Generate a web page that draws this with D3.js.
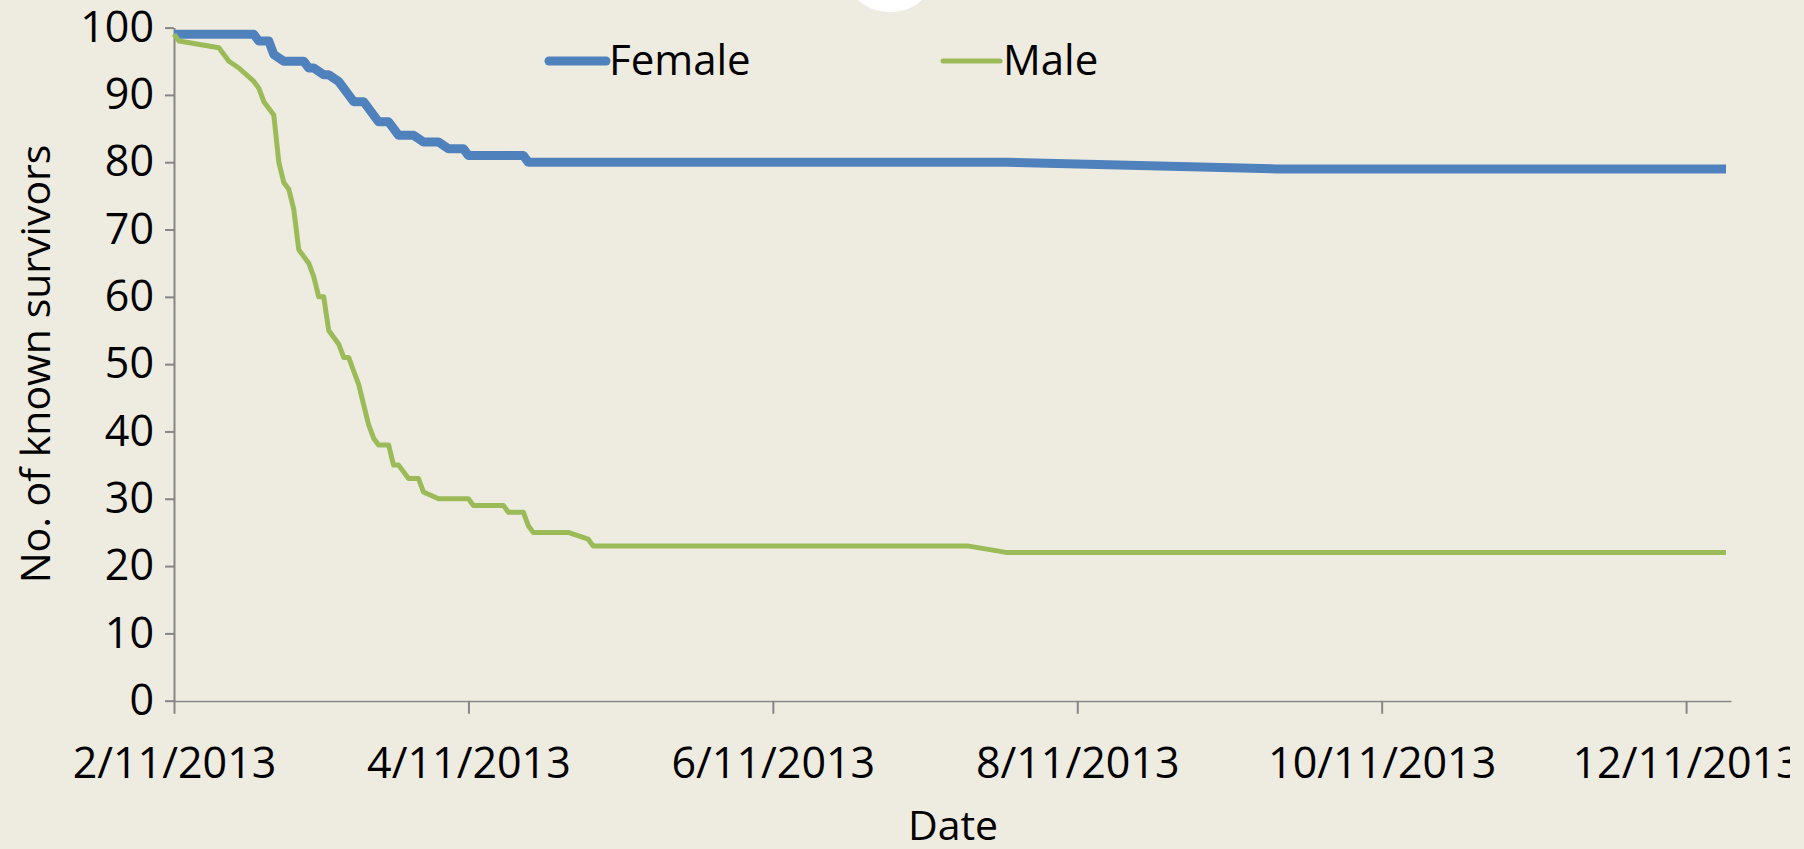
<!DOCTYPE html>
<html>
<head>
<meta charset="utf-8">
<script src="https://cdn.jsdelivr.net/npm/d3@7"></script>
<style>
  body { margin: 0; background: #EEECE1; overflow: hidden; }
  text { font-family: 'Open Sans', 'Noto Sans', sans-serif; fill: #000; }
</style>
</head>
<body>
<script>
/**
Known survivors by sex over time, drawn as two lines on a date axis.
*/

const width = 1804;
const height = 849;

const femaleDates = ['2013-02-11','2013-02-27','2013-02-28','2013-03-02','2013-03-03','2013-03-05',
  '2013-03-09','2013-03-10','2013-03-11','2013-03-13','2013-03-14','2013-03-16','2013-03-19',
  '2013-03-21','2013-03-24','2013-03-26','2013-03-28','2013-03-31','2013-04-02','2013-04-05',
  '2013-04-07','2013-04-10','2013-04-11','2013-04-22','2013-04-23','2013-07-28','2013-09-20','2013-12-19'];
const femaleValues = [99,99,98,98,96,95,
  95,94,94,93,93,92,89,
  89,86,86,84,84,83,83,
  82,82,81,81,80,80,79,79];

const maleDates = ['2013-02-11','2013-02-12','2013-02-20','2013-02-22','2013-02-24','2013-02-27',
  '2013-02-28','2013-03-01','2013-03-03','2013-03-04','2013-03-05','2013-03-06','2013-03-07',
  '2013-03-08','2013-03-10','2013-03-11','2013-03-12','2013-03-13','2013-03-14','2013-03-16',
  '2013-03-17','2013-03-18','2013-03-20','2013-03-21','2013-03-22','2013-03-23','2013-03-24',
  '2013-03-26','2013-03-27','2013-03-28','2013-03-30','2013-04-01','2013-04-02','2013-04-05',
  '2013-04-11','2013-04-12','2013-04-18','2013-04-19','2013-04-22','2013-04-23','2013-04-24',
  '2013-05-01','2013-05-05','2013-05-06','2013-07-20','2013-07-28','2013-12-19'];
const maleValues = [99,98,97,95,94,92,
  91,89,87,80,77,76,73,
  67,65,63,60,60,55,53,
  51,51,47,44,41,39,38,
  38,35,35,33,33,31,30,
  30,29,29,28,28,26,25,
  25,24,23,23,22,22];

// Axis ticks and titles
const xDomain = ['2013-02-11', '2013-12-20'];
const xTickDates = ['2013-02-11','2013-04-11','2013-06-11','2013-08-11','2013-10-11','2013-12-11'];
const yTickValues = [0, 10, 20, 30, 40, 50, 60, 70, 80, 90, 100];
const seriesNames = ['Female', 'Male'];
const seriesColors = ['#4F81BD', '#9BBB59'];
const xTitle = 'Date';
const yTitle = 'No. of known survivors';

var parseDate = d3.timeParse('%Y-%m-%d');
var formatDate = d3.timeFormat('%-m/%-d/%Y');

// build the series from the arrays
var series = [
  { name: seriesNames[0], color: seriesColors[0], width: 9,
    points: femaleDates.map((d, i) => ({ date: parseDate(d), value: femaleValues[i] })) },
  { name: seriesNames[1], color: seriesColors[1], width: 5,
    points: maleDates.map((d, i) => ({ date: parseDate(d), value: maleValues[i] })) }
];

var svg = d3.select('body')
  .append('svg')
  .attr('width', width)
  .attr('height', height)
  .style('display', 'block')
  .style('background-color', '#EEECE1');

// white blob peeking in at the top edge
svg.append('circle')
  .attr('cx', 890)
  .attr('cy', -38)
  .attr('r', 50)
  .attr('fill', '#ffffff');

var x = d3.scaleTime()
  .domain(xDomain.map(parseDate))
  .range([174, 1731]);

var y = d3.scaleLinear()
  .domain([0, 100])
  .range([700.7, 27.6]);

// clip for the last date label, which runs off the chart area
svg.append('clipPath')
  .attr('id', 'chartClip')
  .append('rect')
  .attr('x', 0)
  .attr('y', 0)
  .attr('width', 1790)
  .attr('height', height);

// y axis
var yAxis = svg.append('g')
  .attr('transform', 'translate(174,0)')
  .call(d3.axisLeft(y).tickValues(yTickValues).tickSize(9).tickPadding(11).tickSizeOuter(0));

// x axis
var xAxis = svg.append('g')
  .attr('transform', 'translate(0,' + y(0) + ')')
  .attr('clip-path', 'url(#chartClip)')
  .call(d3.axisBottom(x)
    .tickValues(xTickDates.map(parseDate))
    .tickFormat(formatDate)
    .tickSize(13)
    .tickPadding(34)
    .tickSizeOuter(0));

[yAxis, xAxis].forEach(function (g) {
  g.select('.domain').attr('stroke', '#868686').attr('stroke-width', 2);
  g.selectAll('.tick line').attr('stroke', '#868686').attr('stroke-width', 2);
  g.selectAll('.tick text')
    .style('font-family', "'Open Sans', 'Noto Sans', sans-serif")
    .style('font-size', '43px')
    .attr('fill', '#000');
});

// the lines
var line = d3.line()
  .x(d => x(d.date))
  .y(d => y(d.value));

svg.selectAll('.series')
  .data(series)
  .enter()
  .append('path')
  .attr('class', 'series')
  .attr('d', d => line(d.points))
  .attr('fill', 'none')
  .attr('stroke', d => d.color)
  .attr('stroke-width', d => d.width)
  .attr('stroke-linejoin', 'round');

// legend
var legendX = [549, 943];
var legend = svg.selectAll('.legend')
  .data(series)
  .enter()
  .append('g')
  .attr('class', 'legend')
  .attr('transform', (d, i) => 'translate(' + legendX[i] + ',61)');

legend.append('line')
  .attr('x1', 0)
  .attr('x2', 57)
  .attr('y1', 0)
  .attr('y2', 0)
  .attr('stroke', d => d.color)
  .attr('stroke-width', d => d.width)
  .attr('stroke-linecap', 'round');

legend.append('text')
  .attr('x', 60)
  .attr('y', 14)
  .style('font-size', '42px')
  .text(d => d.name);

// axis titles
svg.append('text')
  .attr('transform', 'translate(953,840)')
  .style('font-size', '41px')
  .style('text-anchor', 'middle')
  .text(xTitle);

svg.append('text')
  .attr('transform', 'translate(50,364) rotate(-90)')
  .style('font-size', '41px')
  .style('text-anchor', 'middle')
  .text(yTitle);
</script>
</body>
</html>
